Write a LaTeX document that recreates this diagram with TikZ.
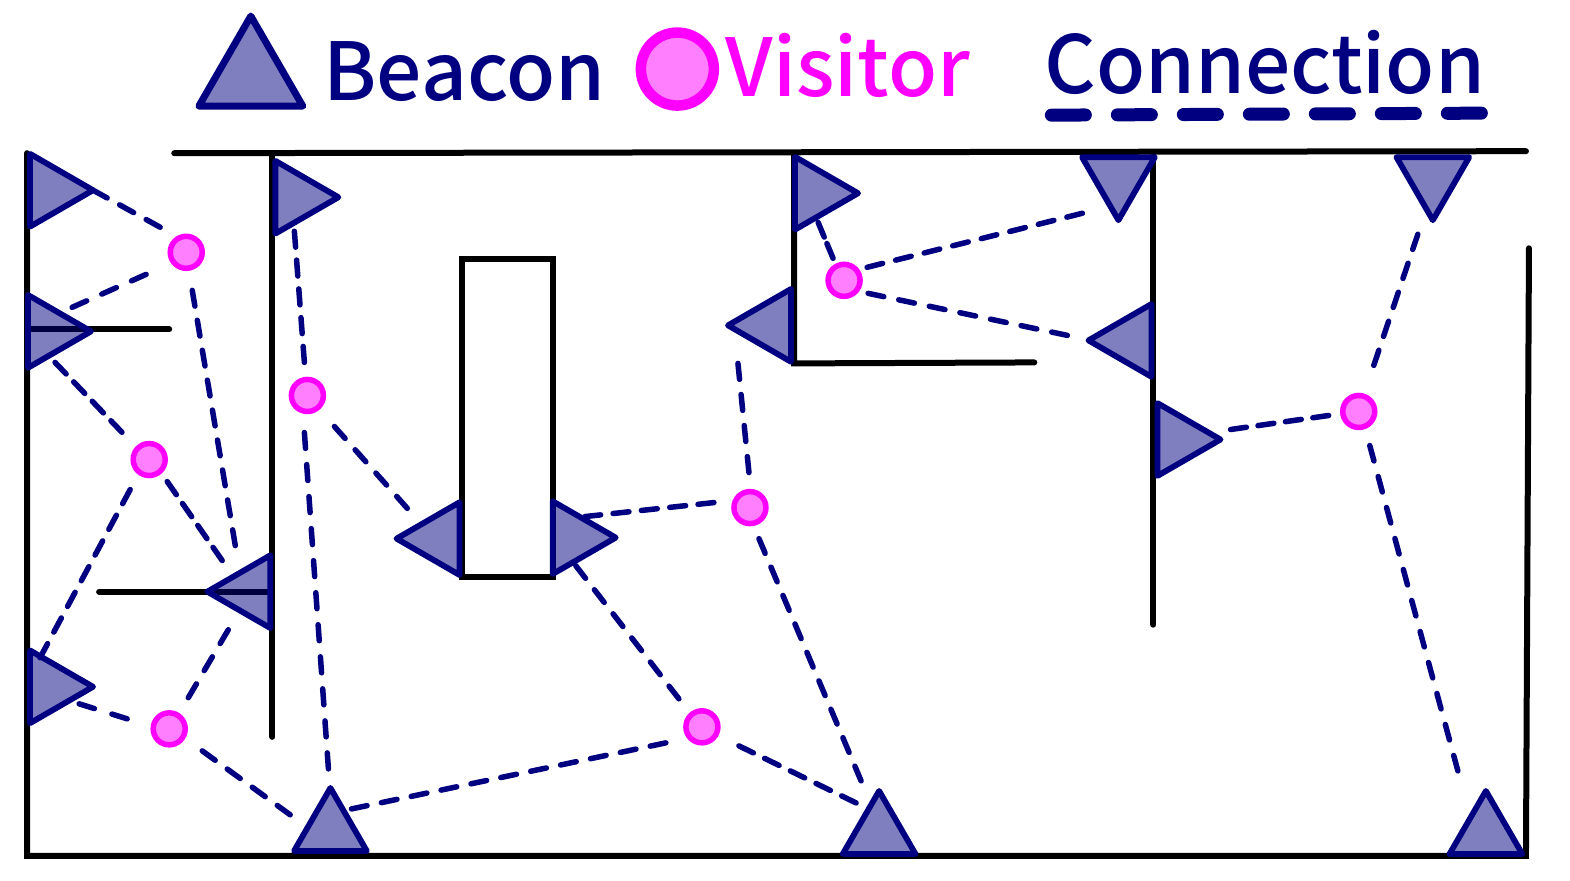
\documentclass[tikz,border=0pt]{standalone}
\usepackage{fontspec}
\setmainfont{Noto Sans CJK SC Medium}
\usetikzlibrary{shapes.geometric}
\definecolor{navyc}{HTML}{000080}
\definecolor{magc}{HTML}{FF00FF}
\tikzset{
  wall/.style={draw=black,line width=6pt,line cap=round,line join=miter},
  beacon/.style={regular polygon,regular polygon sides=3,draw=navyc,fill=navyc,fill opacity=.5,draw opacity=1,line width=5.8pt,line join=round,inner sep=0pt,outer sep=0pt,minimum size=84pt},
  bup/.style={beacon,shape border rotate=0},
  bdown/.style={beacon,shape border rotate=180},
  bright/.style={beacon,shape border rotate=-90},
  bleft/.style={beacon,shape border rotate=90},
  visitor/.style={circle,draw=magc,fill=magc,fill opacity=.5,draw opacity=1,line width=5.5pt,inner sep=0pt,outer sep=0pt,minimum size=32pt},
  conn/.style={draw=navyc,line width=5.5pt,line cap=round},
  legendtext/.style={inner sep=0pt,anchor=base west,font=\fontsize{80}{90}\selectfont}
}
\newcommand{\linkit}[4]{%
  \path ([shift={(#2)}]#1.center) coordinate (ca) ([shift={(#4)}]#3.center) coordinate (cb);
  \pgfpointdiff{\pgfpointanchor{ca}{center}}{\pgfpointanchor{cb}{center}}%
  \pgfgetlastxy{\linkdx}{\linkdy}%
  \pgfmathsetmacro{\linklen}{veclen(\linkdx,\linkdy)}%
  \pgfmathsetmacro{\linkn}{max(1,round((\linklen-16)/31))}%
  \pgfmathsetmacro{\linkoff}{(\linklen-16)/\linkn-16}%
  \draw[conn,dash pattern=on 16pt off \linkoff pt] (ca) -- (cb);
}
\begin{document}
\begin{tikzpicture}[x=1.00128pt,y=-1.00114pt]
\useasboundingbox (0,0) rectangle (1568,879);
% legend
\node[bup,minimum size=120pt,line width=7pt] (lb) at (250.5,76) {};
\node[legendtext,text=navyc] (lbt) at (323,100) {Beacon};
\node[visitor,minimum size=73pt,line width=10.5pt] (lv) at (676.5,69) {};
\node[legendtext,text=magc] (lvt) at (724.5,96) {Visitor};
\node[legendtext,text=navyc] (lct) at (1043,93) {Connection};
\coordinate (lc1) at (1050,115);
\coordinate (lc2) at (1484,113);
\draw[navyc,line width=13pt,line cap=round,dash pattern=on 34pt off 32pt] (lc1) -- (lc2);
% walls
\coordinate (w1) at (27,153);
\coordinate (w2) at (27,855);
\coordinate (w3) at (1524,855);
\coordinate (w4) at (1527,248);
\draw[wall] (w1) -- (w2) -- (w3) -- (w4);
\draw[wall] (174,153) -- (1524,151);
\draw[wall] (272,155) -- (272,736);
\draw[wall] (28,329) -- (169,329);
\draw[wall] (99,591) -- (270,591);
\draw[wall] (461,259) rectangle (552,576);
\draw[wall] (793,155) -- (793,363) -- (1033,362);
\draw[wall] (1152,155) -- (1152,624);
% beacons
\node[bright] (b1) at (51,190) {};
\node[bright] (b2) at (49,331) {};
\node[bleft] (b3) at (249,591) {};
\node[bright] (b4) at (51,686) {};
\node[bup] (b5) at (330,829) {};
\node[bright] (b6) at (296,197) {};
\node[bleft] (b7) at (438,538) {};
\node[bright] (b8) at (573,537) {};
\node[bright] (b9) at (815,193) {};
\node[bleft] (b10) at (769,325) {};
\node[bdown] (b11) at (1117,178) {};
\node[bdown] (b12) at (1431,178) {};
\node[bleft] (b13) at (1129,340) {};
\node[bright] (b14) at (1177,439) {};
\node[bup] (b15) at (878,832) {};
\node[bup] (b16) at (1484,832) {};
% visitors
\node[visitor] (v1) at (186,252) {};
\node[visitor] (v2) at (149,459) {};
\node[visitor] (v3) at (307,395) {};
\node[visitor] (v4) at (169,728) {};
\node[visitor] (v5) at (701,726) {};
\node[visitor] (v6) at (749,507) {};
\node[visitor] (v7) at (843,280) {};
\node[visitor] (v8) at (1357,411) {};
% connections
\linkit{b1}{42,0}{v1}{-26,-25}
\linkit{b2}{23,-24}{v1}{-40,22}
\linkit{v1}{6,38}{b3}{-14,-46}
\linkit{b2}{6,31}{v2}{-27,-27}
\linkit{v2}{-19,30}{b4}{-11,-29}
\linkit{v2}{18,22}{b3}{-27,-31}
\linkit{b6}{-2,34}{v3}{-3,-33}
\linkit{v3}{-3,37}{b5}{-2,-61}
\linkit{v3}{27,31}{b7}{-31,-30}
\linkit{b3}{-21,38}{v4}{19,-31}
\linkit{b4}{28,17}{v4}{-42,-10}
\linkit{v4}{33,22}{b5}{-40,-15}
\linkit{b5}{21,-21}{v5}{-36,16}
\linkit{b8}{2,28}{v5}{-23,-28}
\linkit{v5}{37,19}{b15}{-23,-30}
\linkit{b8}{11,-21}{v6}{-36,-5}
\linkit{b10}{-32,38}{v6}{-1,-35}
\linkit{v6}{9,31}{b15}{-18,-52}
\linkit{b9}{2,29}{v7}{-11,-22}
\linkit{v7}{23,-13}{b11}{-36,35}
\linkit{v7}{24,13}{b13}{-63,-5}
\linkit{b14}{52,-10}{v8}{-30,4}
\linkit{b12}{-15,56}{v8}{15,-46}
\linkit{v8}{11,34}{b16}{-28,-62}
\end{tikzpicture}
\end{document}
